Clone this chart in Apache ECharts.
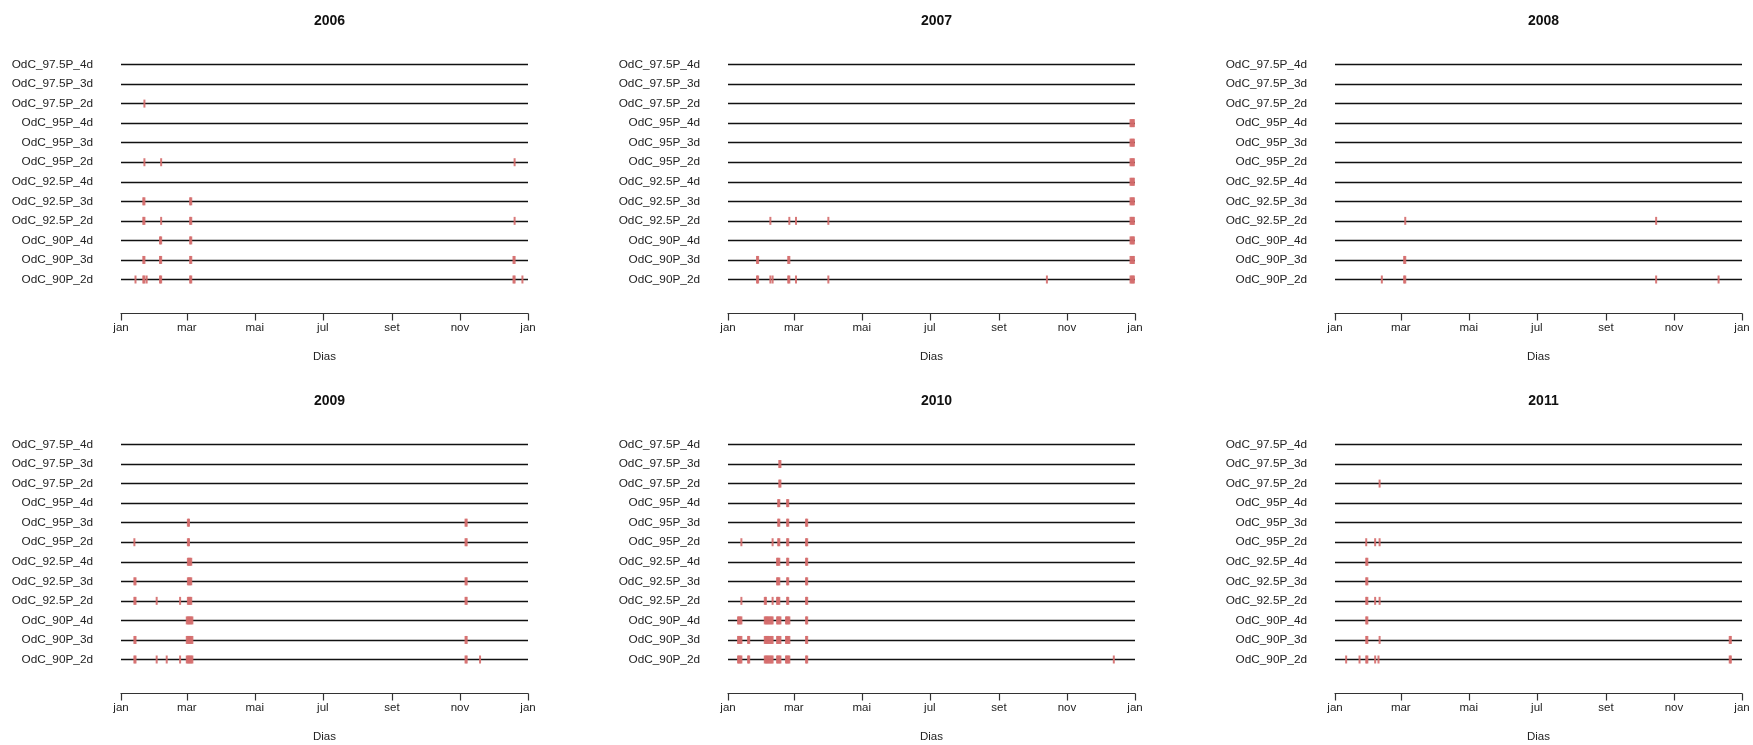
<!DOCTYPE html>
<html>
<head>
<meta charset="utf-8">
<script src="https://cdn.jsdelivr.net/npm/echarts@6/dist/echarts.min.js"></script>
<style>
  html, body { margin: 0; padding: 0; background: #fff; }
  #chart { width: 1753px; height: 745px; }
</style>
</head>
<body>
<div id="chart"></div>
<script>
// categories, top to bottom
var categories = ['OdC_97.5P_4d', 'OdC_97.5P_3d', 'OdC_97.5P_2d',
  'OdC_95P_4d', 'OdC_95P_3d', 'OdC_95P_2d',
  'OdC_92.5P_4d', 'OdC_92.5P_3d', 'OdC_92.5P_2d',
  'OdC_90P_4d', 'OdC_90P_3d', 'OdC_90P_2d'];

var monthTicks = [0, 59, 120, 181, 243, 304, 365];
var monthLabels = ['jan', 'mar', 'mai', 'jul', 'set', 'nov', 'jan'];

var years = ['2006', '2007', '2008', '2009', '2010', '2011'];

// day of year of each event, one list per category (same order as categories)
var days2006 = [
  [], [], [21],
  [], [], [21, 36, 353],
  [], [20, 21, 62, 63], [20, 21, 36, 62, 63, 353],
  [35, 36, 62, 63], [20, 21, 35, 36, 62, 63, 352, 353],
  [13, 20, 21, 23, 35, 36, 62, 63, 352, 353, 360]
];
var days2007 = [
  [], [], [],
  [361, 362, 363, 364], [361, 362, 363, 364], [361, 362, 363, 364],
  [361, 362, 363, 364], [361, 362, 363, 364],
  [38, 55, 61, 90, 361, 362, 363, 364],
  [361, 362, 363, 364],
  [26, 27, 54, 55, 361, 362, 363, 364],
  [26, 27, 38, 40, 54, 55, 61, 90, 286, 361, 362, 363, 364]
];
var days2008 = [
  [], [], [],
  [], [], [],
  [], [], [63, 288],
  [], [62, 63], [42, 62, 63, 288, 344]
];
var days2009 = [
  [], [], [],
  [], [60, 61, 309, 310], [12, 60, 61, 309, 310],
  [60, 61, 62, 63],
  [12, 13, 60, 61, 62, 63, 309, 310],
  [12, 13, 32, 53, 60, 61, 62, 63, 309, 310],
  [59, 60, 61, 62, 63, 64],
  [12, 13, 59, 60, 61, 62, 63, 64, 309, 310],
  [12, 13, 32, 41, 53, 59, 60, 61, 62, 63, 64, 309, 310, 322]
];
var days2010 = [
  [], [46, 47], [46, 47],
  [45, 46, 53, 54],
  [45, 46, 53, 54, 70, 71],
  [12, 40, 45, 46, 53, 54, 70, 71],
  [44, 45, 46, 53, 54, 70, 71],
  [44, 45, 46, 53, 54, 70, 71],
  [12, 33, 34, 40, 44, 45, 46, 53, 54, 70, 71],
  [9, 10, 11, 12, 33, 34, 35, 36, 37, 38, 39, 40, 44, 45, 46, 47, 52, 53, 54, 55, 70, 71],
  [9, 10, 11, 12, 18, 19, 33, 34, 35, 36, 37, 38, 39, 40, 44, 45, 46, 47, 52, 53, 54, 55, 70, 71],
  [9, 10, 11, 12, 18, 19, 33, 34, 35, 36, 37, 38, 39, 40, 44, 45, 46, 47, 52, 53, 54, 55, 70, 71, 346]
];
var days2011 = [
  [], [], [40],
  [], [], [28, 36, 40],
  [28, 29], [28, 29], [28, 29, 36, 40],
  [28, 29], [28, 29, 40, 354, 355],
  [10, 22, 28, 29, 36, 39, 354, 355]
];

var allDays = [days2006, days2007, days2008, days2009, days2010, days2011];

var myChart = echarts.init(document.getElementById('chart'));

var colLeft = [121, 728, 1335];
var plotW = 407;
var rowTop = [64.5, 444.5];
var plotH = 215;
var font = 'Liberation Sans, Arial, sans-serif';

var grids = [], xAxes = [], yAxes = [], titles = [], series = [];

years.forEach(function (yr, k) {
  var c = k % 3, r = Math.floor(k / 3);
  grids.push({ left: colLeft[c], top: rowTop[r], width: plotW, height: plotH });
  titles.push({
    text: yr,
    left: colLeft[c] + plotW / 2,
    top: rowTop[r] - 55.5,
    textAlign: 'center',
    textStyle: { fontFamily: font, fontSize: 14, fontWeight: 'bold', color: '#111' }
  });
  xAxes.push({
    gridIndex: k,
    type: 'value',
    min: 0,
    max: 365,
    offset: 34,
    name: 'Dias',
    nameLocation: 'middle',
    nameGap: 37.5,
    nameTextStyle: { fontFamily: font, fontSize: 11.5, color: '#222' },
    axisLine: { show: true, lineStyle: { color: '#333', width: 1.2 } },
    axisTick: { show: true, customValues: monthTicks, length: 7, lineStyle: { color: '#333', width: 1.2 } },
    axisLabel: {
      customValues: monthTicks,
      margin: 8,
      fontFamily: font, fontSize: 11.5, color: '#222',
      formatter: function (v) { return monthLabels[monthTicks.indexOf(v)]; }
    },
    splitLine: { show: false }
  });
  yAxes.push({
    gridIndex: k,
    type: 'category',
    data: categories,
    inverse: true,
    boundaryGap: false,
    axisLine: { show: false },
    axisTick: { show: false },
    axisLabel: { interval: 0, margin: 28, fontFamily: font, fontSize: 11.8, color: '#222' },
    splitLine: { show: true, interval: 0, lineStyle: { color: '#111', width: 1.3 } }
  });
  var pts = [];
  allDays[k].forEach(function (list, i) {
    list.forEach(function (d) { pts.push([d, categories[i]]); });
  });
  series.push({
    type: 'scatter',
    xAxisIndex: k,
    yAxisIndex: k,
    data: pts,
    symbol: 'rect',
    symbolSize: [2, 8],
    itemStyle: { color: '#d46a6a', opacity: 0.9 },
    z: 3
  });
});

option = {
  animation: false,
  backgroundColor: '#fff',
  title: titles,
  grid: grids,
  xAxis: xAxes,
  yAxis: yAxes,
  series: series
};

myChart.setOption(option);
</script>
</body>
</html>
